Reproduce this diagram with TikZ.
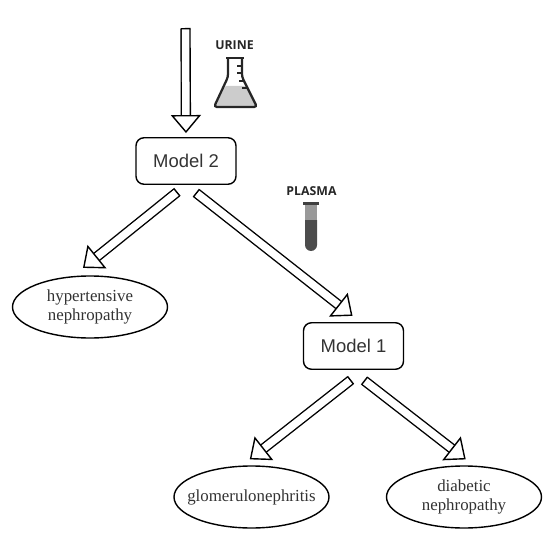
\documentclass[tikz,border=0pt]{standalone}
\usepackage{fontspec}
\setmainfont{Liberation Serif}
\newfontfamily\modelfont{Liberation Sans}
\newfontfamily\labelfont{Open Sans}
\usetikzlibrary{arrows.meta,shapes.geometric}
\begin{document}
\begin{tikzpicture}[m/.style={draw,rectangle,rounded corners=0.16cm,minimum width=2cm,minimum height=0.93cm,inner sep=0pt,line width=0.8pt,font=\modelfont\fontsize{10.5}{12}\selectfont,text=black!80},d/.style={draw,ellipse,minimum width=3.1cm,minimum height=1.24cm,inner sep=0pt,line width=0.8pt,align=center,font=\fontsize{9.6}{11}\selectfont,text=black!80},t/.style={font=\labelfont\bfseries\fontsize{7}{8}\selectfont,text=black!85},blockarrow/.style={draw=black,line width=0.8pt,double=white,double distance=0.15cm,{Bar[width=0.2cm,line width=0.8pt]}-{Triangle[length=0.36cm,width=0.6cm,fill=white,line width=0.8pt]}}]
\useasboundingbox (0,0) rectangle (11,10.76);
\node[m] (M2) at (3.72,7.54) {Model 2};
\node[m] (M1) at (7.07,3.84) {Model 1};
\node[d] (HN) at (1.80,4.62) {hypertensive\\nephropathy};
\node[d] (GN) at (5.03,0.82) {\makebox[0pt]{glomerulonephritis}};
\node[d] (DN) at (9.28,0.82) {diabetic\\nephropathy};
\node[t] (U) at (4.69,9.86) {URINE};
\node[t] (P) at (6.23,6.94) {PLASMA};
\coordinate (IN) at (3.71,10.2);
\draw[blockarrow,shorten >=0.08cm] (IN)--(M2.north);
\draw[blockarrow,shorten <=0.22cm,shorten >=0.26cm] (M2.south)--(HN.119.5);
\draw[blockarrow,shorten <=0.25cm,shorten >=0.2cm] (M2.south)--(M1.74);
\draw[blockarrow,shorten <=0.32cm,shorten >=0.2cm] (M1.-67.6)--(GN.107);
\draw[blockarrow,shorten <=0.34cm,shorten >=0.2cm] (M1.-97)--(DN.73);
\fill[black!20,rounded corners=0.06cm] (4.476,9.04)--(4.28,8.62)--(5.14,8.62)--(4.93,9.04)--cycle;
\draw[line width=0.045cm,black!85,rounded corners=0.06cm] (4.56,9.6)--(4.56,9.22)--(4.28,8.62)--(5.14,8.62)--(4.84,9.22)--(4.84,9.6);
\draw[line width=0.045cm,black!85] (4.52,9.6)--(4.88,9.6);
\draw[line width=0.04cm,black!85] (4.84,9.44)--(4.74,9.44);
\draw[line width=0.04cm,black!85] (4.84,9.3)--(4.74,9.3);
\draw[line width=0.04cm,black!85] (4.89,9.14)--(4.77,9.14);
\draw[line width=0.04cm,black!85] (4.96,9.0)--(4.83,9.0);
\fill[black!40] (6.10,6.66) rectangle (6.34,6.36);
\fill[black!70] (6.10,6.36)--(6.10,5.86) arc[start angle=180,end angle=360,radius=0.12]--(6.34,6.36)--cycle;
\fill[black!75] (6.06,6.66) rectangle (6.38,6.72);
\end{tikzpicture}
\end{document}
